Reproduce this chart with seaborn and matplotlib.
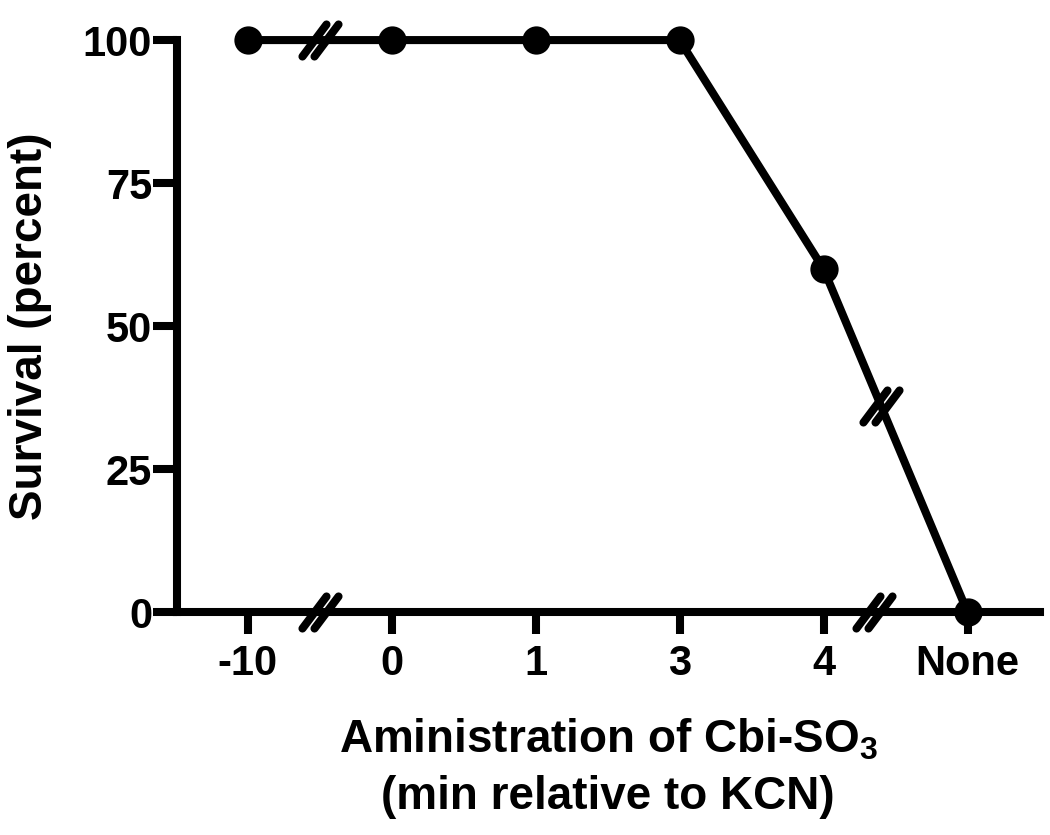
import matplotlib
matplotlib.use("Agg")
import matplotlib.pyplot as plt
from matplotlib.path import Path
from matplotlib.markers import MarkerStyle
import seaborn as sns
import pandas as pd

# ---- data ----
time_labels = ["-10", "0", "1", "3", "4", "None"]
survival = [100, 100, 100, 100, 60, 0]
y_ticks = [0, 25, 50, 75, 100]

sns.set_theme(style="ticks")
plt.rcParams["font.family"] = ["Liberation Sans", "DejaVu Sans"]
plt.rcParams["font.weight"] = "bold"
plt.rcParams["text.color"] = "black"
plt.rcParams["axes.labelcolor"] = "black"
plt.rcParams["xtick.color"] = "black"
plt.rcParams["ytick.color"] = "black"
plt.rcParams["axes.edgecolor"] = "black"
plt.rcParams["mathtext.fontset"] = "custom"
plt.rcParams["mathtext.rm"] = "Liberation Sans:bold"
plt.rcParams["mathtext.bf"] = "Liberation Sans:bold"
plt.rcParams["mathtext.default"] = "bf"

df = pd.DataFrame({"time": time_labels, "survival": survival})

fig = plt.figure(figsize=(10.5, 8.35), dpi=100)
ax = fig.add_axes([0.1686, 0.267, 0.8214, 0.685])

LW = 5.8
sns.pointplot(data=df, x="time", y="survival", order=time_labels, color="black",
              errorbar=None, markers="o", markersize=16, linewidth=LW, ax=ax)
for art in ax.lines + ax.collections:
    art.set_clip_on(False)

ax.set_xlim(-0.49, 5.5)
ax.set_ylim(0, 100)
ax.set_yticks(y_ticks)
ax.set_yticklabels([str(t) for t in y_ticks])

sns.despine(ax=ax)
for s in ["left", "bottom"]:
    ax.spines[s].set_linewidth(LW)
    ax.spines[s].set_color("black")
    ax.spines[s].set_capstyle("projecting")
ax.tick_params(axis="y", length=17, width=LW, labelsize=30, pad=1, colors="black")
ax.tick_params(axis="x", length=16, width=LW, labelsize=30, pad=7, colors="black")
for lab in ax.get_xticklabels() + ax.get_yticklabels():
    lab.set_fontweight("bold")

ax.set_xlabel("Aministration of Cbi-SO$_3$\n(min relative to KCN)",
              fontsize=33, fontweight="bold", labelpad=24, linespacing=1.35,
              color="black")
ax.set_ylabel("Survival (percent)", fontsize=33, fontweight="bold", labelpad=22,
              color="black")

# ---- axis-break marks "//" ----
brk_path = Path([(-18, -16), (6, 16), (-6, -16), (18, 16)],
                [Path.MOVETO, Path.LINETO, Path.MOVETO, Path.LINETO])
brk = MarkerStyle(brk_path, capstyle="round")

def break_mark(x, y):
    ax.plot([x], [y], linestyle="none", marker=brk, markersize=26,
            markeredgecolor="black", markeredgewidth=LW, clip_on=False, zorder=5)

# midway between -10 and 0 on the line and on the axis
break_mark(0.5, survival[0])
break_mark(0.5, 0)
# between 4 and None: on the line and on the axis
bx = 4.4
by = survival[4] + (survival[5] - survival[4]) * (bx - 4)
break_mark(bx, by)
break_mark(4.35, 0)

fig.savefig("out.png", dpi=100)
